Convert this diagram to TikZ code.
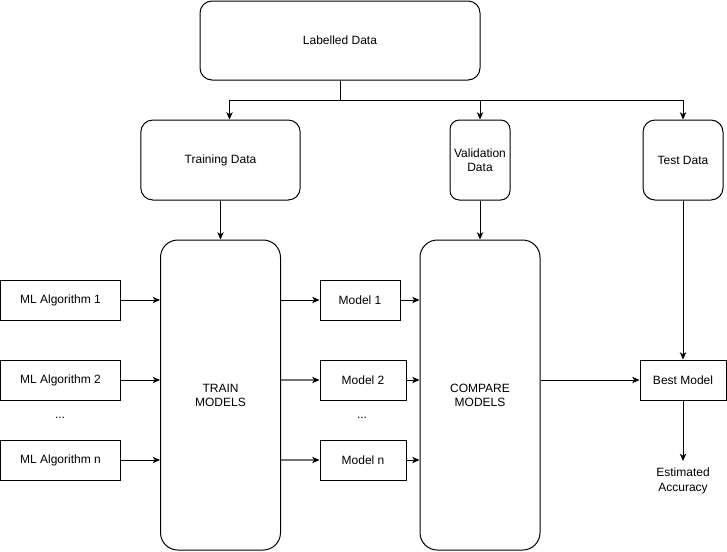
\documentclass[tikz,border=0pt]{standalone}
\usepackage{fontspec}
\setmainfont{Liberation Sans}
\usetikzlibrary{arrows.meta}
\begin{document}
\begin{tikzpicture}[x=0.75pt,y=-0.75pt,
  font=\fontsize{9}{10.5}\selectfont,
  line width=0.75pt,
  rbox/.style={draw, rounded corners=#1, align=center, inner sep=1pt},
  sbox/.style={draw, align=center, inner sep=1pt},
  arr/.style={-{Stealth[length=5.5pt,width=4.8pt,inset=1.6pt]}},
  garr/.style={draw=black!55, line width=1.1pt, -{Stealth[length=5.5pt,width=4.8pt,inset=1.6pt,color=black,line width=0.75pt]}}
]
\useasboundingbox (0,0) rectangle (727,551);
% top
\node[rbox=9pt, minimum width=210pt, minimum height=59.25pt] (lab) at (340,40.5) {Labelled Data};
\node[rbox=9pt, minimum width=119.5pt, minimum height=60pt] (tr) at (220.5,160) {Training Data};
\node[rbox=7pt, minimum width=45pt, minimum height=60pt] (va) at (480,160) {Validation\\Data};
\node[rbox=9pt, minimum width=60pt, minimum height=60pt] (te) at (683,160) {Test Data};
% big boxes
\node[rbox=13pt, minimum width=90pt, minimum height=232.5pt] (trn) at (220.5,395) {TRAIN\\MODELS};
\node[rbox=13pt, minimum width=90pt, minimum height=232.5pt] (cmp) at (480,395) {COMPARE\\MODELS};
% algorithms
\node[sbox, minimum width=89.6pt, minimum height=30pt] (ml1) at (60.5,300) {ML Algorithm 1};
\node[sbox, minimum width=89.6pt, minimum height=30pt] (ml2) at (60.5,380) {ML Algorithm 2};
\node (d1) at (60,418) {...};
\node[sbox, minimum width=89.6pt, minimum height=30pt] (mln) at (60.5,460) {ML Algorithm n};
% models
\node[sbox, minimum width=60pt, minimum height=30pt] (m1) at (360,300) {Model 1};
\node[sbox, minimum width=64.5pt, minimum height=30pt] (m2) at (363,380) {Model 2};
\node (d2) at (362,418) {...};
\node[sbox, minimum width=64.5pt, minimum height=30pt] (mn) at (363,460) {Model n};
% best model
\node[sbox, minimum width=64.5pt, minimum height=30pt] (bm) at (683,380) {Best Model};
\node[align=center, font=\fontsize{9}{10.8}\selectfont, inner sep=1pt] (acc) at (683,481) {Estimated\\Accuracy};
\coordinate (accin) at (683,461);
% connectors
\coordinate (j) at (340,100);
\draw (lab.south) -- (j);
\draw[arr] (j) -| ([xshift=6.75pt]tr.north);
\draw[arr] (j) -| (va.north);
\draw[arr] (j) -| (te.north);
\draw[arr] (tr.south) -- (trn.north);
\draw[arr] (va.south) -- (cmp.north);
\draw[arr] (te.south) -- (bm.north);
\draw[arr] (ml1.east) -- (ml1.east -| trn.west);
\draw[arr] (ml2.east) -- (ml2.east -| trn.west);
\draw[arr] (mln.east) -- (mln.east -| trn.west);
\draw[arr] (m1.west -| trn.east) -- (m1.west);
\draw[garr] (m2.west -| trn.east) -- (m2.west);
\draw[garr] (mn.west -| trn.east) -- (mn.west);
\draw[arr] (m1.east) -- (m1.east -| cmp.west);
\draw[arr] (m2.east) -- (m2.east -| cmp.west);
\draw[arr] (mn.east) -- (mn.east -| cmp.west);
\draw[arr] (bm.west -| cmp.east) -- (bm.west);
\draw[arr] (bm.south) -- (accin);
\end{tikzpicture}
\end{document}
